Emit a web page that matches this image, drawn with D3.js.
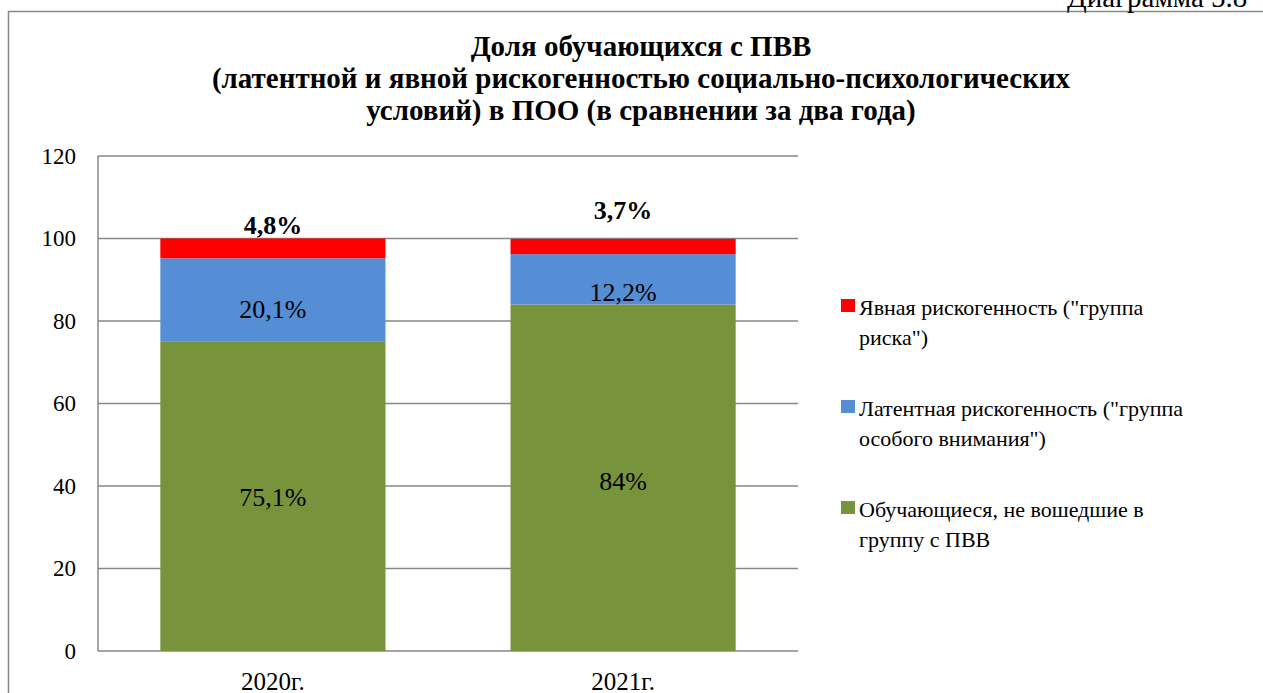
<!DOCTYPE html>
<html>
  <head>
    <meta charset="utf-8" />
    <script src="https://cdnjs.cloudflare.com/ajax/libs/d3/7.8.5/d3.min.js"></script>
    <style>
      body { margin: 0; background: #fff; }
    </style>
  </head>
  <body>
    <script type="text/javascript">

      var years = ["2020г.", "2021г."];
      var green = [75.1, 84];
      var blue = [20.1, 12.2];
      var red = [4.8, 3.7];
      var greenLabels = ["75,1%", "84%"];
      var blueLabels = ["20,1%", "12,2%"];
      var redLabels = ["4,8%", "3,7%"];
      var yTicks = [0, 20, 40, 60, 80, 100, 120];
      var seriesNames = [
        ["Явная рискогенность (\"группа", "риска\")"],
        ["Латентная рискогенность (\"группа", "особого внимания\")"],
        ["Обучающиеся, не вошедшие в", "группу с ПВВ"]
      ];
      var titleLines = [
        "Доля обучающихся с ПВВ",
        "(латентной и явной рискогенностью социально-психологических",
        "условий) в ПОО (в сравнении за два года)"
      ];

      var width = 1263, height = 693;
      var plotLeft = 98, plotRight = 798, plotTop = 156, plotBottom = 651;
      var serif = "'Liberation Serif'";

      var svg = d3.select("body").append("svg")
          .attr("width", width)
          .attr("height", height);

      // outer frame (runs off the page at right and bottom)
      svg.append("rect")
          .attr("x", 8.5).attr("y", 11.5)
          .attr("width", 1300).attr("height", 800)
          .attr("fill", "none")
          .attr("stroke", "#888")
          .attr("stroke-width", 1.5);

      svg.append("text")
          .attr("x", 1067).attr("y", 7)
          .attr("font-family", serif)
          .attr("font-size", 29)
          .text("Диаграмма 5.8");

      svg.append("text")
          .attr("x", 641).attr("y", 56)
          .attr("text-anchor", "middle")
          .attr("font-family", serif)
          .attr("font-size", 29)
          .attr("font-weight", "bold")
          .selectAll("tspan")
          .data(titleLines)
          .enter().append("tspan")
            .attr("x", 641)
            .attr("dy", function(d, i) { return i == 0 ? 0 : 32; })
            .text(function(d) { return d; });

      var x = d3.scaleBand()
          .domain(years)
          .range([plotLeft, plotRight])
          .paddingInner(0.357)
          .paddingOuter(0.178);

      var y = d3.scaleLinear()
          .domain([0, 120])
          .range([plotBottom, plotTop]);

      // gridlines
      svg.append("g")
          .selectAll("line")
          .data(yTicks)
          .enter().append("line")
            .attr("x1", plotLeft).attr("x2", plotRight)
            .attr("y1", function(d) { return y(d); })
            .attr("y2", function(d) { return y(d); })
            .attr("stroke", "#878787")
            .attr("stroke-width", 1.5);

      svg.append("line")
          .attr("x1", plotLeft).attr("x2", plotLeft)
          .attr("y1", plotTop).attr("y2", plotBottom)
          .attr("stroke", "#878787")
          .attr("stroke-width", 1.5);

      var yAxis = svg.append("g")
          .attr("transform", "translate(" + plotLeft + ",0)")
          .call(d3.axisLeft(y).tickValues(yTicks).tickSize(0).tickPadding(22));
      yAxis.attr("font-family", serif).attr("font-size", 23);
      yAxis.select(".domain").remove();

      var xAxis = svg.append("g")
          .attr("transform", "translate(0," + plotBottom + ")")
          .call(d3.axisBottom(x).tickSize(0).tickPadding(21));
      xAxis.attr("font-family", serif).attr("font-size", 25);
      xAxis.select(".domain").remove();

      // stacked bars
      var rows = years.map(function(yr, i) {
        return { year: yr, green: green[i], blue: blue[i], red: red[i] };
      });
      var keys = ["green", "blue", "red"];
      var colors = { green: "#77933c", blue: "#558ed5", red: "#ff0000" };
      var stacked = d3.stack().keys(keys)(rows);

      var layers = svg.append("g").selectAll("g")
          .data(stacked)
          .enter().append("g")
            .attr("fill", function(d) { return colors[d.key]; });

      layers.selectAll("rect")
          .data(function(d) { return d; })
          .enter().append("rect")
            .attr("x", function(d) { return x(d.data.year); })
            .attr("width", x.bandwidth())
            .attr("y", function(d) { return y(d[1]); })
            .attr("height", function(d) { return y(d[0]) - y(d[1]); });

      // data labels
      var labelG = svg.append("g")
          .attr("font-family", serif)
          .attr("font-size", 26);
      var greenDy = [10, 12];
      stacked[0].forEach(function(d, i) {
        labelG.append("text")
            .attr("x", x(d.data.year) + x.bandwidth() / 2)
            .attr("y", (y(d[0]) + y(d[1])) / 2 + greenDy[i])
            .attr("text-anchor", "middle")
            .text(greenLabels[i]);
      });
      var blueDy = [18, 22];
      stacked[1].forEach(function(d, i) {
        labelG.append("text")
            .attr("x", x(d.data.year) + x.bandwidth() / 2)
            .attr("y", (y(d[0]) + y(d[1])) / 2 + blueDy[i])
            .attr("text-anchor", "middle")
            .text(blueLabels[i]);
      });
      var redDy = [-5, -20];
      stacked[2].forEach(function(d, i) {
        labelG.append("text")
            .attr("x", x(d.data.year) + x.bandwidth() / 2)
            .attr("y", y(d[1]) + redDy[i])
            .attr("text-anchor", "middle")
            .attr("font-weight", "bold")
            .text(redLabels[i]);
      });

      // legend
      var legendKeys = ["red", "blue", "green"];
      var legend = svg.append("g")
          .selectAll("g")
          .data(legendKeys)
          .enter().append("g")
            .attr("transform", function(d, i) { return "translate(841," + (308 + i * 101) + ")"; });

      legend.append("rect")
          .attr("x", 0).attr("y", -9)
          .attr("width", 14).attr("height", 13)
          .attr("fill", function(d) { return colors[d]; });

      legend.append("text")
          .attr("x", 18).attr("y", 7)
          .attr("font-family", serif)
          .attr("font-size", 22)
          .selectAll("tspan")
          .data(function(d, i) { return seriesNames[i]; })
          .enter().append("tspan")
            .attr("x", 18)
            .attr("dy", function(d, i) { return i == 0 ? 0 : 30; })
            .text(function(d) { return d; });

    </script>
  </body>
</html>
